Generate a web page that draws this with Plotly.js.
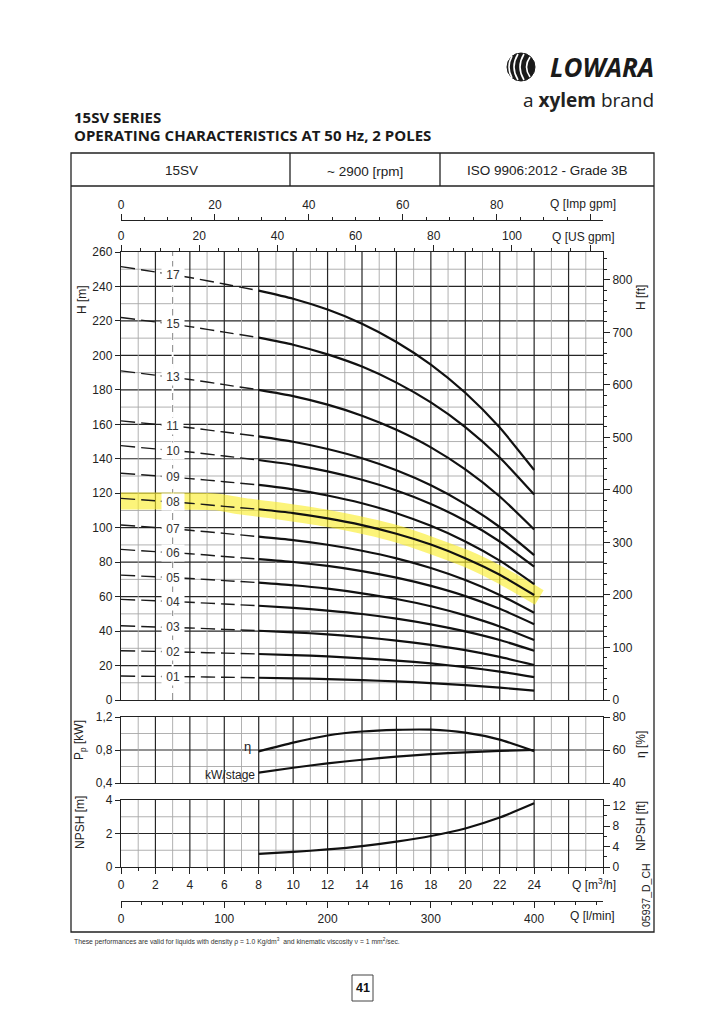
<!DOCTYPE html>
<html><head><meta charset="utf-8">
<script src="https://cdn.plot.ly/plotly-3.0.1.min.js"></script>
<style>html,body{margin:0;padding:0;background:#fff}#chart{width:724px;height:1024px}</style>
</head><body><div id="chart"></div>
<script>
// ---------------- DATA ----------------
const qPoints = [0,2,4,6,8,10,12,14,16,18,20,22,24];           // Q [m3/h]
const stageLabels = ["17","15","13","11","10","09","08","07","06","05","04","03","02","01"];
const h17 = [251.5,248.4,245.2,241.4,237.6,232.9,226.6,218.4,207.8,194.7,178.3,158.1,133.5];
const h15 = [222.0,219.4,216.7,213.5,210.3,206.2,200.6,193.5,184.2,172.7,158.4,140.7,119.2];
const h13 = [191.0,188.5,186.0,183.0,180.0,176.4,171.4,165.0,156.8,146.6,133.8,118.1,99.0];
const h11 = [162.0,160.0,158.0,155.5,153.0,149.9,145.7,140.3,133.3,124.6,113.7,100.4,84.1];
const h10 = [147.6,145.7,143.9,141.6,139.3,136.5,132.7,127.8,121.6,113.8,104.0,92.0,77.4];
const h09 = [131.6,130.1,128.5,126.7,124.8,122.2,118.7,114.2,108.4,101.1,92.0,80.9,67.3];
const h08 = [117.0,115.6,114.2,112.4,110.7,108.5,105.4,101.5,96.5,90.2,82.3,72.7,60.9];
const h07 = [101.6,100.1,98.5,96.7,94.8,92.8,90.1,86.6,82.2,76.6,69.6,61.0,50.6];
const h06 = [87.4,86.1,84.9,83.3,81.8,80.1,77.8,74.8,71.0,66.2,60.3,52.9,44.0];
const h05 = [72.5,71.5,70.5,69.3,68.1,66.6,64.6,61.9,58.6,54.4,49.1,42.7,34.8];
const h04 = [58.4,57.6,56.7,55.7,54.7,53.5,51.9,49.9,47.2,43.9,39.8,34.8,28.6];
const h03 = [43.1,42.4,41.8,41.0,40.2,39.3,38.1,36.5,34.5,32.0,28.9,25.0,20.3];
const h02 = [28.6,28.2,27.7,27.2,26.7,26.1,25.3,24.2,22.9,21.2,19.1,16.5,13.3];
const h01 = [13.9,13.7,13.5,13.2,12.9,12.6,12.1,11.5,10.8,9.8,8.6,7.2,5.4];
const dashEndQ = 8;      // curves are dashed below this flow

const bandQ = [0,2,4,5.5,7,9,12,16,20,22,24.3];                  // yellow highlight (08)
const bandH = [115.5,115.5,115.4,115.0,112.5,110.0,105.4,96.5,82.3,72.7,59.5];

const qPerf   = [8,10,12,14,16,18,20,22,24];
const kwStage = [0.525,0.585,0.638,0.682,0.720,0.750,0.772,0.790,0.800];
const etaPct  = [59.2,64.5,68.8,71.2,72.2,72.3,70.5,66.3,59.3];
const npshM   = [0.78,0.90,1.05,1.25,1.52,1.85,2.30,2.95,3.80];

const pTickVals = [0.4,0.8,1.2];
const pTickText = ["0,4","0,8","1,2"];
const qTickVals = [0,2,4,6,8,10,12,14,16,18,20,22,24,26,28];
const qTickText = ["0","2","4","6","8","10","12","14","16","18","20","22","24","",""];
const impTickVals = [0,20,40,60,80,100];
const impTickText = ["0","20","40","60","80",""];
const usTickVals = [0,20,40,60,80,100,120];
const usTickText = ["0","20","40","60","80","100",""];

// ---------------- LAYOUT HELPERS ----------------
const W = 724, HP = 1024;
const px = x => x / W;
const py = y => 1 - y / HP;
const F = "Liberation Sans, Arial, sans-serif";
const FT = "Open Sans, Liberation Sans, sans-serif";
const DX = [px(121), px(603)];
const DY1 = [py(700), py(252)];
const DY2 = [py(783), py(717)];
const DY3 = [py(867), py(800)];
const M3H_PER_IMPGPM = 0.272765, M3H_PER_USGPM = 0.2271247;
const QMAX = 28;
const MAJ = '#262626', MIN = '#a8a8a8', AX = '#222';

const stageArrays = [h17,h15,h13,h11,h10,h09,h08,h07,h06,h05,h04,h03,h02,h01];

const traces = [];
traces.push({x: bandQ, y: bandH, xaxis:'x', yaxis:'y', mode:'lines',
  line:{color:'rgba(250,238,40,0.62)', width:17, shape:'spline', smoothing:0.7}, hoverinfo:'skip'});

stageArrays.forEach(h => {
  const qd = [], hd = [], qs = [], hs = [];
  qPoints.forEach((q,i) => {
    if (q <= dashEndQ) { qd.push(q); hd.push(h[i]); }
    if (q >= dashEndQ) { qs.push(q); hs.push(h[i]); }
  });
  traces.push({x: qd, y: hd, xaxis:'x', yaxis:'y', mode:'lines',
    line:{color:'#1a1a1a', width:1.4, dash:'14px,6px', shape:'spline', smoothing:0.6}, hoverinfo:'skip'});
  traces.push({x: qs, y: hs, xaxis:'x', yaxis:'y', mode:'lines',
    line:{color:'#111', width:2.2, shape:'spline', smoothing:0.6}, hoverinfo:'skip'});
});

traces.push({x: qPerf, y: etaPct, xaxis:'x2', yaxis:'y4', mode:'lines',
  line:{color:'#111', width:2.2, shape:'spline', smoothing:0.6}, hoverinfo:'skip'});
traces.push({x: qPerf, y: kwStage, xaxis:'x2', yaxis:'y3', mode:'lines',
  line:{color:'#111', width:2.2, shape:'spline', smoothing:0.6}, hoverinfo:'skip'});
traces.push({x: qPerf, y: npshM, xaxis:'x3', yaxis:'y5', mode:'lines',
  line:{color:'#111', width:2.2, shape:'spline', smoothing:0.6}, hoverinfo:'skip'});
// placeholders so the secondary scales are drawn
[['x4','y'],['x5','y'],['x6','y'],['x','y2'],['x2','y4'],['x3','y6']].forEach(([xa,ya]) =>
  traces.push({x:[null], y:[null], xaxis:xa, yaxis:ya, mode:'lines', hoverinfo:'skip'}));

const tf = {family:F, size:12, color:AX};
const baseX = (anchor, extra) => Object.assign({
  domain: DX, anchor, range:[0,QMAX], showgrid:false, showticklabels:false, ticks:'',
  zeroline:false, showline:true, linecolor:AX, linewidth:1.2, mirror:true,
  fixedrange:true, automargin:false, tickfont:tf
}, extra || {});
const baseY = (extra) => Object.assign({
  showgrid:false, zeroline:false, showline:true, linecolor:AX, linewidth:1.2, mirror:true,
  ticks:'outside', ticklen:5, tickcolor:AX, tickfont:tf, fixedrange:true, automargin:false
}, extra || {});
const secY = (extra) => Object.assign({
  side:'right', showgrid:false, zeroline:false, showline:false, ticks:'outside', ticklen:6,
  tickcolor:AX, tickfont:tf, fixedrange:true, automargin:false
}, extra || {});
const topX = (extra) => Object.assign({
  overlaying:'x', ticks:'outside', ticklen:6, tickcolor:AX, showgrid:false, zeroline:false,
  tickfont:tf, fixedrange:true, automargin:false
}, extra || {});

const layout = {
  width: W, height: HP, margin:{l:0,r:0,t:0,b:0,pad:0},
  paper_bgcolor:'#fff', plot_bgcolor:'rgba(0,0,0,0)', showlegend:false,
  font:{family:F, size:12, color:AX},
  xaxis: baseX('y'),
  xaxis2: baseX('y3'),
  xaxis3: baseX('y5', {showticklabels:true, tickvals:qTickVals, ticktext:qTickText,
    ticks:'outside', ticklen:6, tickcolor:AX,
    minor:{tick0:0, dtick:1, ticks:'outside', ticklen:3, tickcolor:AX, showgrid:false}}),
  xaxis4: topX({anchor:'free', position: py(220), side:'top',
    range:[0, QMAX / M3H_PER_IMPGPM], tickvals:impTickVals, ticktext:impTickText,
    minor:{dtick:5, tick0:0, ticks:'outside', ticklen:3, tickcolor:AX},
    showline:true, linecolor:AX, linewidth:1.2}),
  xaxis5: topX({anchor:'y', side:'top',
    range:[0, QMAX / M3H_PER_USGPM], tickvals:usTickVals, ticktext:usTickText,
    minor:{dtick:5, tick0:0, ticks:'outside', ticklen:3, tickcolor:AX}, showline:false}),
  xaxis6: topX({anchor:'free', position: py(901), side:'bottom',
    range:[0, QMAX * 1000 / 60], dtick:100, tick0:0,
    minor:{dtick:20, tick0:0, ticks:'outside', ticklen:3, tickcolor:AX},
    showline:true, linecolor:AX, linewidth:1.2}),
  yaxis: baseY({domain:DY1, anchor:'x', range:[0,260], dtick:20, tick0:0}),
  yaxis2: secY({overlaying:'y', anchor:'x', range:[0, 260/0.3048], dtick:100, tick0:0,
    minor:{dtick:20, tick0:0, ticks:'outside', ticklen:3, tickcolor:AX}}),
  yaxis3: baseY({domain:DY2, anchor:'x2', range:[0.4,1.2], tickvals:pTickVals, ticktext:pTickText}),
  yaxis4: secY({overlaying:'y3', anchor:'x2', range:[40,80], dtick:20, tick0:40}),
  yaxis5: baseY({domain:DY3, anchor:'x3', range:[0,4], dtick:2, tick0:0}),
  yaxis6: secY({overlaying:'y5', anchor:'x3', range:[0, 4/0.3048], tickvals:[0,4,8,12],
    minor:{dtick:2, tick0:0, ticks:'outside', ticklen:3, tickcolor:AX}}),
  annotations: [], shapes: []
};

const ann = (text, x, y, o) => Object.assign({text, x:px(x), y:py(y), xref:'paper', yref:'paper',
  showarrow:false, xanchor:'center', yanchor:'middle', font:{family:F, size:12, color:AX}}, o || {});
const A = layout.annotations;
A.push(ann('<b>15SV SERIES</b>', 72, 117, {xanchor:'left', font:{family:FT, size:15, color:'#1a1a1a'}}));
A.push(ann('<b>OPERATING CHARACTERISTICS AT 50 Hz, 2 POLES</b>', 72, 135, {xanchor:'left', font:{family:FT, size:15, color:'#1a1a1a'}}));
A.push(ann('15SV', 181, 170, {font:{family:F, size:13.5, color:AX}}));
A.push(ann('~ 2900 [rpm]', 365, 171, {font:{family:F, size:13.5, color:AX}}));
A.push(ann('ISO 9906:2012 - Grade 3B', 547, 170, {font:{family:F, size:13.5, color:AX}}));
A.push(ann('Q [Imp gpm]', 583, 204));
A.push(ann('Q [US gpm]', 583, 237));
A.push(ann('Q [m<sup>3</sup>/h]', 594, 884));
A.push(ann('Q [l/min]', 592, 916));
A.push(ann('H [m]', 82, 300, {textangle:-90}));
A.push(ann('H [ft]', 641, 298, {textangle:-90}));
A.push(ann('P<sub>p</sub> [kW]', 80, 740, {textangle:-90}));
A.push(ann('η [%]', 641, 745, {textangle:-90}));
A.push(ann('NPSH [m]', 80, 823, {textangle:-90}));
A.push(ann('NPSH [ft]', 641, 826, {textangle:-90}));
A.push(ann('05937_D_CH', 646, 895, {textangle:-90, font:{family:F, size:10.5, color:AX}}));
A.push(ann('η', 247, 746, {font:{family:F, size:13, color:AX}}));
A.push(ann('kW/stage', 257, 775, {xanchor:'right'}));
A.push(ann('These performances are valid for liquids with density ρ = 1.0 Kg/dm<sup>3</sup>  and kinematic viscosity ν = 1 mm<sup>2</sup>/sec.',
  72, 941, {xanchor:'left', font:{family:'Liberation Sans Narrow, Liberation Sans, sans-serif', size:6.8, color:'#333'}}));
A.push(ann('<b>41</b>', 362.5, 988, {font:{family:F, size:12.5, color:'#111'}}));
A.push(ann('<b><i>LOWARA</i></b>', 656, 67, {xanchor:'right', font:{family:FT, size:26, color:'#1a1a1a'}}));
A.push(ann('a <b>xylem</b> brand', 656, 100, {xanchor:'right', font:{family:FT, size:19, color:'#222'}}));

// stage labels on the dashed leader at Q = 3
stageArrays.forEach((h, i) => {
  A.push({text:'\u00a0' + stageLabels[i] + '\u00a0', x:3, y:(h[1] + h[2]) / 2, xref:'x', yref:'y',
    showarrow:false, bgcolor:'#fff', borderpad:1, font:{family:F, size:12, color:'#333'}});
});

const S = layout.shapes;
// grid (minor first, then major)
const vgrid = (xref, yref, y0, y1) => {
  [1, 0].forEach(pass => {
    for (let q = 1; q < QMAX; q++) {
      const major = q % 2 === 0;
      if ((pass === 1) === major) continue;
      S.push({type:'line', xref, yref, x0:q, x1:q, y0, y1, layer:'between',
        line:{color: major ? MAJ : MIN, width: major ? 1.2 : 0.9}});
    }
  });
};
const hgrid = (xref, yref, vals, majorTest) => {
  const minors = vals.filter(v => !majorTest(v)), majors = vals.filter(majorTest);
  minors.concat(majors).forEach(v => {
    const major = majorTest(v);
    S.push({type:'line', xref, yref, x0:0, x1:QMAX, y0:v, y1:v, layer:'between',
      line:{color: major ? MAJ : MIN, width: major ? 1.2 : 0.9}});
  });
};
const hv1 = []; for (let v = 10; v < 260; v += 10) hv1.push(v);
hgrid('x', 'y', hv1, v => v % 20 === 0);
vgrid('x', 'y', 0, 260);
hgrid('x2', 'y3', [0.6, 0.8, 1.0], v => Math.abs(v - 0.8) < 1e-9);
vgrid('x2', 'y3', 0.4, 1.2);
hgrid('x3', 'y5', [1, 2, 3], v => v === 2);
vgrid('x3', 'y5', 0, 4);

const rect = (x0,y0,x1,y1,o) => Object.assign({type:'rect', xref:'paper', yref:'paper',
  x0:px(x0), x1:px(x1), y0:py(y1), y1:py(y0), line:{color:AX, width:1.3}, fillcolor:'rgba(0,0,0,0)'}, o || {});
const seg = (x0,y0,x1,y1,o) => Object.assign({type:'line', xref:'paper', yref:'paper',
  x0:px(x0), x1:px(x1), y0:py(y0), y1:py(y1), line:{color:AX, width:1.3}}, o || {});
S.push(rect(71,153,654,932));
S.push(seg(71,186,654,186));
S.push(seg(290,153,290,186));
S.push(seg(440,153,440,186));
S.push(rect(352,975,373,1001, {line:{color:'#444', width:1}}));
// dashed leader at Q=3 in the head panel
S.push({type:'line', xref:'x', yref:'y', x0:3, x1:3, y0:0, y1:260, layer:'between', line:{color:'#fff', width:2}});
S.push({type:'line', xref:'x', yref:'y', x0:3, x1:3, y0:0, y1:260, layer:'between', line:{color:'#8a8a8a', width:1, dash:'7px,5px'}});
// logo mark
S.push({type:'circle', xref:'paper', yref:'paper', x0:px(507), x1:px(535), y0:py(81), y1:py(53),
  fillcolor:'#1a1a1a', line:{color:'#1a1a1a', width:1}});
const P = (x,y) => px(x) + ',' + py(y);
[[512,56,506,67,512,78],[518,54,510,67,518,80],[524,54,516,67,524,80],[530,57,523,67,530,77]].forEach(c => {
  S.push({type:'path', xref:'paper', yref:'paper',
    path:'M' + P(c[0],c[1]) + ' Q' + P(c[2],c[3]) + ' ' + P(c[4],c[5]),
    line:{color:'#fff', width:1.6}});
});

Plotly.newPlot('chart', traces, layout, {displayModeBar:false, staticPlot:true});
</script>
</body></html>
